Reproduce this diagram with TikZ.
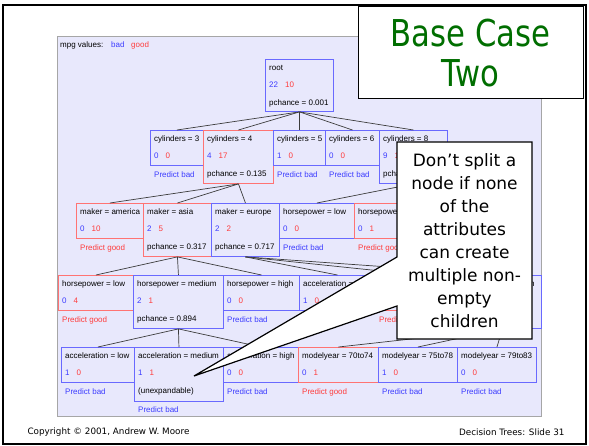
\documentclass[tikz,border=0pt]{standalone}
\usepackage{fontspec}
\usepackage{xcolor}
\usepackage{tikz}
\setmainfont{DejaVu Sans}
\newfontfamily\treefont{Liberation Sans}
\newfontfamily\titlefont[FakeStretch=0.83]{DejaVu Sans}
\definecolor{panel}{RGB}{232,232,252}
\definecolor{bad}{RGB}{60,60,255}
\definecolor{good}{RGB}{255,60,60}
\definecolor{boxbad}{RGB}{105,105,255}
\definecolor{boxgood}{RGB}{255,115,115}
\definecolor{edgegray}{RGB}{60,60,60}
\definecolor{titlegreen}{RGB}{0,110,0}
\newcommand{\tf}{\treefont\fontsize{8}{9}\selectfont}
\newcommand{\tnode}[9][35]{%
  \node[box=#6, minimum width=#5pt, minimum height=#1pt] (#2) at (#3,#4) {};
  \node[txt] (#2-lab) at ([shift={(4,9)}]#2.north west) {#7};
  \node[txt] (#2-cnt) at ([shift={(4,26)}]#2.north west) {\textcolor{bad}{#8}\hspace{7pt}\textcolor{good}{#9}};}
\newcommand{\pch}[2]{\node[txt] (#1-pch) at ([shift={(4,44)}]#1.north west) {#2};}
\newcommand{\pred}[4][45]{\node[txt, text=#3] (#2-pred) at ([shift={(4,#1)}]#2.north west) {#4};}

\begin{document}
\begin{tikzpicture}[x=1pt, y=-1pt,
    box/.style={draw=#1, line width=0.9pt, inner sep=0pt, anchor=north west},
    txt/.style={anchor=west, inner sep=0pt, font=\tf},
    edge/.style={draw=edgegray, line width=0.7pt},
]
\useasboundingbox (0,0) rectangle (589,446);
\fill[white] (0,0) rectangle (589,446);
\draw[line width=2pt] (3,5) rectangle (586,444);

\draw[gray!70, fill=panel] (57,36) rectangle (541,416);
\node[txt] (key) at (60,45) {mpg values:};
\node[txt, text=bad] (key-bad) at (111,45) {bad};
\node[txt, text=good] (key-good) at (131,45) {good};

\tnode[52]{root}{265}{59}{68}{boxbad}{root}{22}{10}
\pch{root}{pchance = 0.001}

\tnode{c3}{150}{130}{53}{boxbad}{cylinders = 3}{0}{0}
\pred{c3}{bad}{Predict bad}
\tnode[53]{c4}{203}{130}{70}{boxgood}{cylinders = 4}{4}{17}
\pch{c4}{pchance = 0.135}
\tnode{c5}{273}{130}{52}{boxbad}{cylinders = 5}{1}{0}
\pred{c5}{bad}{Predict bad}
\tnode{c6}{325}{130}{54}{boxbad}{cylinders = 6}{0}{0}
\pred{c6}{bad}{Predict bad}
\tnode[53]{c8}{379}{130}{68}{boxbad}{cylinders = 8}{9}{1}
\pch{c8}{pchance}

\tnode{ma}{76}{203}{67}{boxgood}{maker = america}{0}{10}
\pred{ma}{good}{Predict good}
\tnode[53]{ms}{143}{203}{68}{boxgood}{maker = asia}{2}{5}
\pch{ms}{pchance = 0.317}
\tnode[53]{me}{211}{203}{68}{boxbad}{maker = europe}{2}{2}
\pch{me}{pchance = 0.717}
\tnode{hl}{279}{203}{75}{boxbad}{horsepower = low}{0}{0}
\pred{hl}{bad}{Predict bad}
\tnode{hm}{354}{203}{90}{boxgood}{horsepower = medium}{0}{1}
\pred{hm}{good}{Predict good}

\tnode{as-low}{58}{275}{75}{boxgood}{horsepower = low}{0}{4}
\pred{as-low}{good}{Predict good}
\tnode[53]{as-med}{133}{275}{90}{boxbad}{horsepower = medium}{2}{1}
\pch{as-med}{pchance = 0.894}
\tnode{as-high}{223}{275}{76}{boxbad}{horsepower = high}{0}{0}
\pred{as-high}{bad}{Predict bad}
\tnode{eu-low}{299}{275}{76}{boxbad}{acceleration = low}{1}{0}
\node[box=boxgood, minimum width=88pt, minimum height=35pt] (eu-med) at (375,275) {};
\pred{eu-med}{good}{Predict good}
\node[box=boxbad, minimum width=78pt, minimum height=53pt] (eu-high) at (463,275) {};
\node[txt] (eu-high-lab) at ([shift={(4,9)}]eu-high.north west) {acceleration = high};

\tnode{md-low}{61}{347}{73}{boxbad}{acceleration = low}{1}{0}
\pred{md-low}{bad}{Predict bad}
\tnode[54]{md-med}{134}{347}{89}{boxbad}{acceleration = medium}{1}{1}
\pch{md-med}{(unexpandable)}
\pred[63]{md-med}{bad}{Predict bad}
\tnode{md-high}{223}{347}{75}{boxbad}{acceleration = high}{0}{0}
\pred{md-high}{bad}{Predict bad}
\tnode{my70}{298}{347}{80}{boxgood}{modelyear = 70to74}{0}{1}
\pred{my70}{good}{Predict good}
\tnode{my75}{378}{347}{79}{boxbad}{modelyear = 75to78}{1}{0}
\pred{my75}{bad}{Predict bad}
\tnode{my79}{457}{347}{79}{boxbad}{modelyear = 79to83}{0}{0}
\pred{my79}{bad}{Predict bad}

\foreach \c in {c3,c4,c5,c6,c8} \draw[edge] (root.south) -- (\c.north);
\foreach \c in {ma,ms,me} \draw[edge] (c4.south) -- (\c.north);
\foreach \c in {hl,hm} \draw[edge] (c8.south) -- (\c.north);
\foreach \c in {as-low,as-med,as-high} \draw[edge] (ms.south) -- (\c.north);
\foreach \c in {eu-low,eu-med,eu-high} \draw[edge] (me.south) -- (\c.north);
\foreach \c in {md-low,md-med,md-high} \draw[edge] (as-med.south) -- (\c.north);
\foreach \c in {my70,my75,my79} \draw[edge] (eu-high.south) -- (\c.north);

% callout
\draw[line width=1.2pt, fill=white] (397,142) -- (532,142) -- (532,339) -- (397,339)
  -- (397,306) -- (194,376) -- (397,257) -- cycle;
\node[font=\fontsize{17}{23}\selectfont, align=center, inner sep=0pt] (note) at (464.5,241)
  {Don’t split a\\node if none\\of the\\attributes\\can create\\multiple non-\\empty\\children};

\draw[line width=1pt, fill=white] (358,7) rectangle (583,99);
\node[font=\titlefont\fontsize{37}{40}\selectfont, text=titlegreen, align=center, inner sep=0pt]
  (title) at (470.5,53.5) {Base Case\\Two};

\node[anchor=west, font=\fontsize{8.8}{10}\selectfont] (copy) at (24,432) {Copyright © 2001, Andrew W. Moore};
\node[anchor=east, font=\fontsize{8.8}{10}\selectfont] (slide) at (568,432) {Decision Trees: Slide 31};
\end{tikzpicture}
\end{document}
